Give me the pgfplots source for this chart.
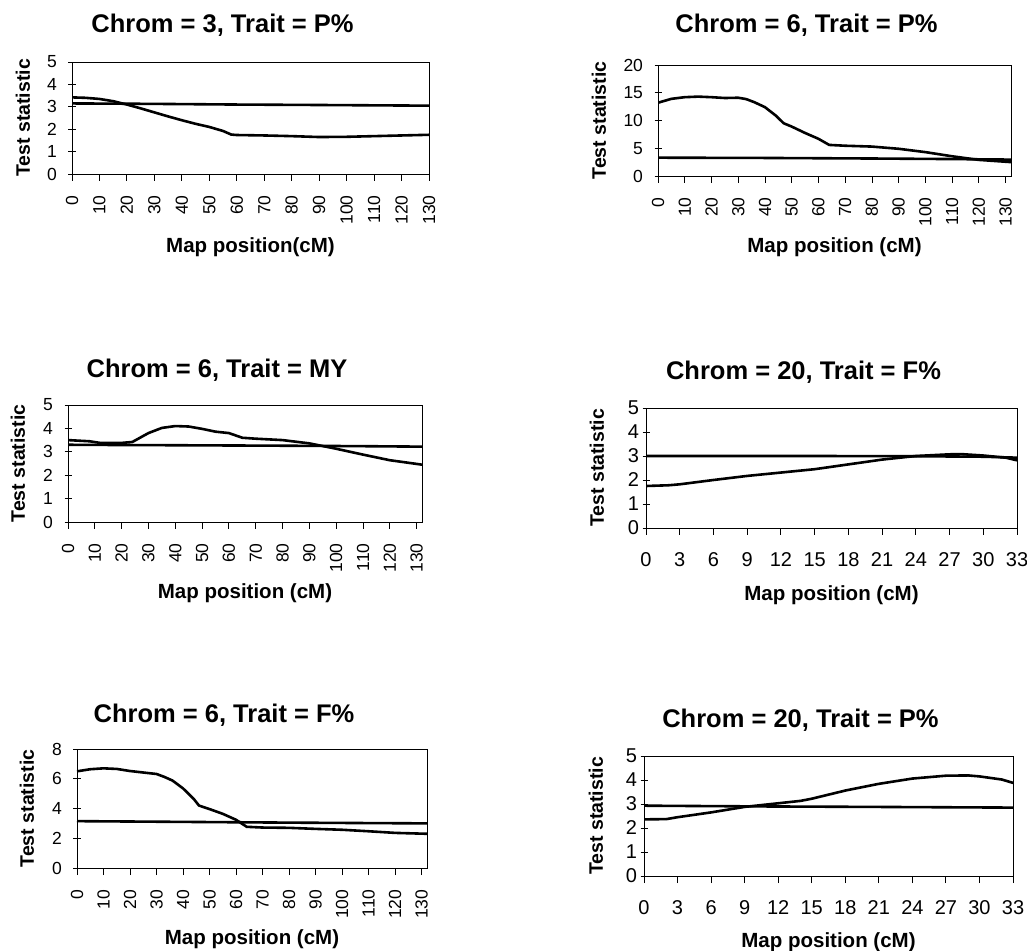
\documentclass[border=0pt]{standalone}
\usepackage{fontspec}
\setmainfont{Liberation Sans}
\usepackage{pgfplots}
\pgfplotsset{compat=1.18}
\pgfplotsset{
  qtl/.style={
    scale only axis,
    anchor=south west,
    axis line style={line width=0.9pt},
    xtick pos=bottom, ytick pos=left,
    major tick length=7pt,
    tick style={line width=0.9pt, black},
    xtick align=outside,
    ytick align=center,
    ymin=0,
    /pgf/number format/assume math mode=true,
    ticklabel style={font=\fontsize{17.5}{17.5}\selectfont},
    every axis title/.style={at={(axis description cs:0.5,1)}, anchor=center, xshift=-28pt,
      font=\fontsize{25.5}{25.5}\selectfont\bfseries},
    every axis x label/.style={at={(axis description cs:0.5,0)}, anchor=center,
      font=\fontsize{20.5}{20.5}\selectfont\bfseries},
    every axis y label/.style={at={(axis description cs:0,0.5)}, anchor=center, rotate=90,
      font=\fontsize{19.5}{19.5}\selectfont\bfseries},
    ylabel={Test statistic},
    cycle list={{black, line width=2.6pt, line join=round}},
    every axis plot post/.append style={black, line width=2.6pt, mark=none},
  },
  cmlong/.style={
    xmin=0, xtick={0,10,...,130},
    xticklabel style={rotate=90, anchor=east, xshift=-11pt},
    yticklabel style={xshift=-8pt},
  },
  cmshort/.style={
    xmin=0, xmax=33, xtick={0,3,...,33},
    xticklabel style={yshift=-14pt},
    ticklabel style={font=\fontsize{20}{20}\selectfont},
  },
}
\begin{document}
\begin{tikzpicture}
\useasboundingbox (0,0) rectangle (1027pt,950pt);

% Panel 1
\begin{axis}[qtl, cmlong, at={(72pt,776pt)}, width=357pt, height=112pt,
  xmax=130, ymax=5, ytick={0,1,...,5},
  title={Chrom = 3, Trait = P\%}, title style={yshift=37pt},
  xlabel={Map position(cM)}, xlabel style={yshift=-73pt},
  ylabel style={yshift=49pt}]
\addplot coordinates {(0,3.15) (30,3.13) (60,3.1) (90,3.08) (130,3.05)};
\addplot coordinates {(0,3.42) (5,3.4) (10,3.35) (15,3.25) (20,3.1) (25,2.93) (30,2.75) (35,2.57) (40,2.4) (45,2.24) (50,2.1) (55,1.92) (58,1.76) (60,1.74) (70,1.72) (80,1.69) (90,1.65) (100,1.66) (110,1.69) (120,1.72) (130,1.75)};
\end{axis}

% Panel 2
\begin{axis}[qtl, cmlong, at={(658pt,774pt)}, width=353pt, height=111pt,
  xmax=132, ymax=20, ytick={0,5,...,20},
  title={Chrom = 6, Trait = P\%}, title style={yshift=40pt},
  xlabel={Map position (cM)}, xlabel style={yshift=-71pt},
  ylabel style={yshift=59pt}]
\addplot coordinates {(0,3.3) (40,3.25) (80,3.15) (110,3.05) (132,2.95)};
\addplot coordinates {(0,13.2) (5,13.9) (10,14.2) (15,14.3) (20,14.2) (25,14.05) (30,14.1) (33,13.85) (36,13.3) (40,12.4) (44,10.9) (47,9.5) (50,8.9) (55,7.75) (60,6.7) (64,5.6) (70,5.45) (80,5.3) (90,4.9) (100,4.3) (110,3.55) (120,2.9) (132,2.5)};
\end{axis}

% Panel 3
\begin{axis}[qtl, cmlong, at={(68pt,428pt)}, width=354pt, height=117pt,
  xmax=132, ymax=5, ytick={0,1,...,5},
  title={Chrom = 6, Trait = MY}, title style={yshift=35pt},
  xlabel={Map position (cM)}, xlabel style={yshift=-71pt},
  ylabel style={yshift=50pt}]
\addplot coordinates {(0,3.3) (40,3.28) (80,3.26) (110,3.24) (132,3.22)};
\addplot coordinates {(0,3.5) (8,3.45) (12,3.38) (20,3.38) (24,3.42) (30,3.8) (35,4.02) (40,4.1) (45,4.08) (50,3.98) (55,3.86) (60,3.8) (65,3.6) (70,3.56) (80,3.5) (90,3.36) (100,3.13) (110,2.88) (120,2.64) (132,2.45)};
\end{axis}

% Panel 4
\begin{axis}[qtl, cmshort, at={(646pt,422pt)}, width=371pt, height=120pt,
  ymax=5, ytick={0,1,...,5},
  title={Chrom = 20, Trait = F\%}, title style={yshift=36pt},
  xlabel={Map position (cM)}, xlabel style={yshift=-67pt},
  ylabel style={yshift=49pt}]
\addplot coordinates {(0,3.0) (15,3.0) (24,2.99) (30,2.97) (33,2.93)};
\addplot coordinates {(0,1.75) (2,1.78) (3,1.82) (6,2.0) (9,2.17) (12,2.31) (15,2.45) (18,2.65) (21,2.85) (24,3.0) (27,3.07) (28,3.08) (30,3.02) (32,2.93) (33,2.82)};
\end{axis}

% Panel 5
\begin{axis}[qtl, cmlong, at={(77pt,82pt)}, width=350pt, height=119pt,
  xmax=132, ymax=8, ytick={0,2,...,8},
  title={Chrom = 6, Trait = F\%}, title style={yshift=34pt},
  xlabel={Map position (cM)}, xlabel style={yshift=-71pt},
  ylabel style={yshift=50pt}]
\addplot coordinates {(0,3.15) (40,3.1) (80,3.05) (110,3.02) (132,3.0)};
\addplot coordinates {(0,6.5) (5,6.64) (10,6.7) (15,6.66) (20,6.52) (25,6.42) (30,6.32) (33,6.12) (36,5.88) (40,5.35) (44,4.65) (46,4.2) (50,3.96) (55,3.64) (60,3.24) (64,2.77) (70,2.72) (80,2.7) (90,2.63) (100,2.57) (110,2.47) (120,2.36) (132,2.3)};
\end{axis}

% Panel 6
\begin{axis}[qtl, cmshort, at={(644pt,74pt)}, width=369pt, height=120pt,
  ymax=5, ytick={0,1,...,5},
  title={Chrom = 20, Trait = P\%}, title style={yshift=36pt},
  xlabel={Map position (cM)}, xlabel style={yshift=-66pt},
  ylabel style={yshift=48pt}]
\addplot coordinates {(0,2.93) (10,2.9) (20,2.88) (33,2.85)};
\addplot coordinates {(0,2.36) (2,2.37) (3,2.45) (6,2.65) (9,2.88) (12,3.03) (14,3.13) (15,3.22) (18,3.56) (21,3.84) (24,4.06) (27,4.18) (29,4.19) (30,4.15) (32,4.02) (33,3.88)};
\end{axis}
\end{tikzpicture}
\end{document}
